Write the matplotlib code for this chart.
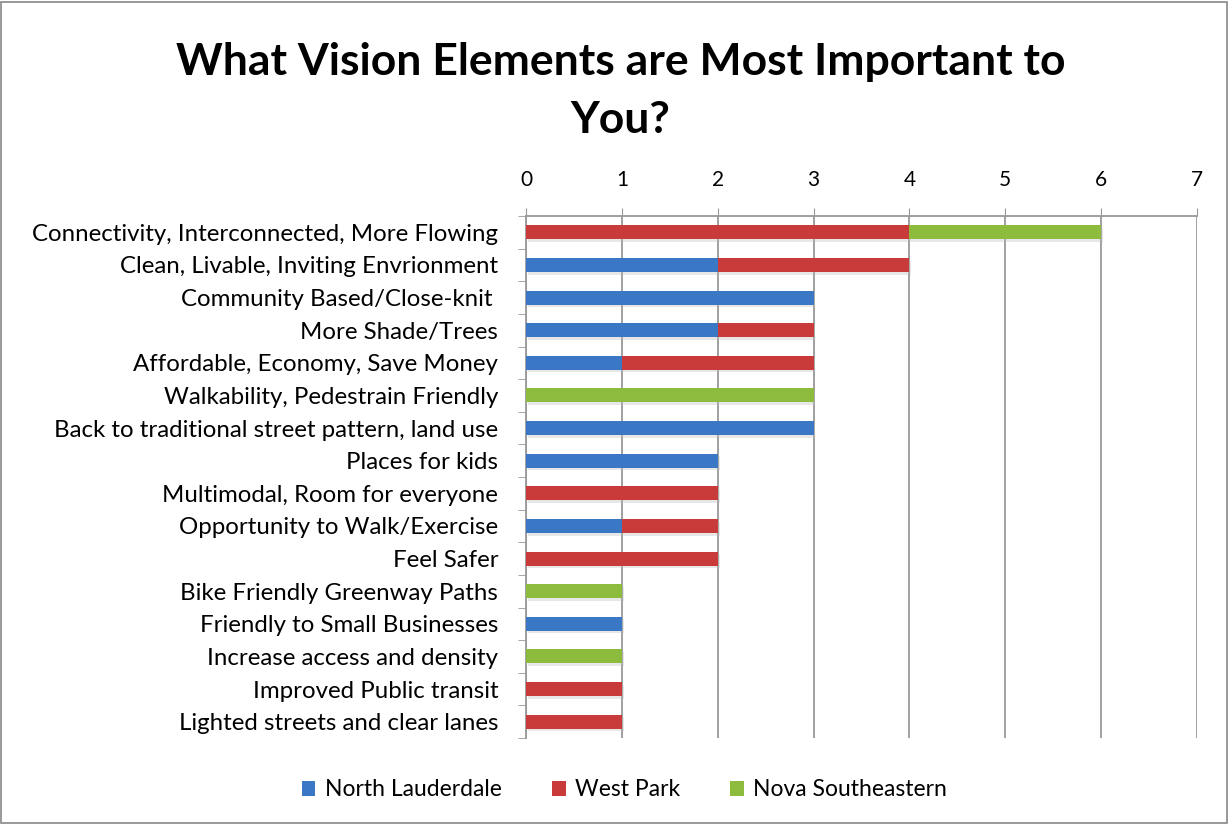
import numpy as np
import matplotlib.pyplot as plt
from matplotlib.patches import Rectangle

categories = [
    "Connectivity, Interconnected, More Flowing",
    "Clean, Livable, Inviting Envrionment",
    "Community Based/Close-knit ",
    "More Shade/Trees",
    "Affordable, Economy, Save Money",
    "Walkability, Pedestrain Friendly",
    "Back to traditional street pattern, land use",
    "Places for kids",
    "Multimodal, Room for everyone",
    "Opportunity to Walk/Exercise",
    "Feel Safer",
    "Bike Friendly Greenway Paths",
    "Friendly to Small Businesses",
    "Increase access and density",
    "Improved Public transit",
    "Lighted streets and clear lanes",
]
north_lauderdale = [0, 2, 3, 2, 1, 0, 3, 2, 0, 1, 0, 0, 1, 0, 0, 0]
west_park        = [4, 2, 0, 1, 2, 0, 0, 0, 2, 1, 2, 0, 0, 0, 1, 1]
nova_se          = [2, 0, 0, 0, 0, 3, 0, 0, 0, 0, 0, 1, 0, 1, 0, 0]
series = ["North Lauderdale", "West Park", "Nova Southeastern"]
COLORS = ['#3a78c6', '#c93a3a', '#8dbb3e']

plt.rcParams['font.family'] = ['Lato', 'DejaVu Sans']

fig = plt.figure(figsize=(12.29, 8.24), dpi=100)
ax = fig.add_axes([526 / 1229, 1 - 738 / 824, 671 / 1229, 522 / 824])

y = np.arange(len(categories))
left = np.zeros(len(categories))
h = 0.43
for vals, col, name in zip([north_lauderdale, west_park, nova_se], COLORS, series):
    vals = np.array(vals, dtype=float)
    # soft shadow under each bar
    for yi, l, v in zip(y, left, vals):
        if v > 0:
            ax.add_patch(Rectangle((l + 0.02, yi - h / 2 + 0.08), v, h,
                                   color='#bbbbbb', alpha=0.35, lw=0, zorder=2))
    ax.barh(y, vals, left=left, height=h, color=col, label=name, zorder=3,
            edgecolor='none')
    left += vals

ax.set_xlim(0, 7)
ax.set_ylim(len(categories) - 0.5, -0.5)
ax.xaxis.tick_top()
ax.set_xticks(range(8))
ax.tick_params(axis='x', length=6, color='#999999', labelsize=15, pad=13)
ax.set_yticks(y)
ax.set_yticklabels(categories, fontsize=17.3)
ax.set_yticks(np.arange(-0.5, len(categories), 1), minor=True)
ax.tick_params(axis='y', which='major', length=0, pad=20)
ax.tick_params(axis='y', which='minor', length=6, color='#999999')
ax.grid(axis='x', color='#999999', lw=1.3, zorder=1)
for s in ['right', 'bottom']:
    ax.spines[s].set_visible(False)
for s in ['top', 'left']:
    ax.spines[s].set_color('#999999')
    ax.spines[s].set_linewidth(1.3)

fig.text(0.505, 1 - 62 / 824, "What Vision Elements are Most Important to",
         ha='center', va='center', fontsize=32, fontweight='bold')
fig.text(0.505, 1 - 120 / 824, "You?", ha='center', va='center',
         fontsize=32, fontweight='bold')

fig.legend(loc='center', bbox_to_anchor=(0.508, 1 - 790 / 824), ncol=3,
           frameon=False, fontsize=16.5, handlelength=0.6, handleheight=0.6,
           columnspacing=2.2, handletextpad=0.4)

fig.patches.append(Rectangle((0.001, 0.001), 0.997, 0.997, transform=fig.transFigure,
                             fill=False, edgecolor='#888888', lw=1.2))

fig.savefig('out.png', dpi=100)
